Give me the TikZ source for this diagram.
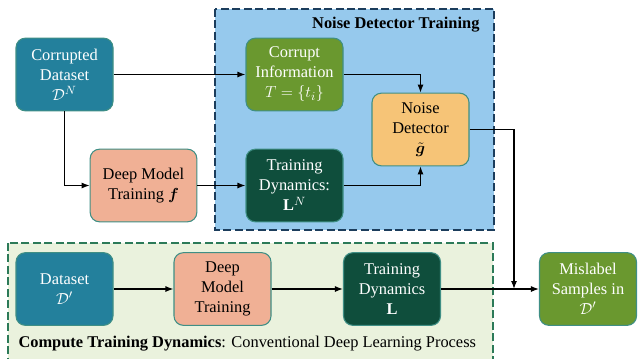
\documentclass[tikz,border=0pt]{standalone}
\usepackage{fontspec}
\setmainfont{Liberation Serif}
\usepackage{amsmath,bm}
\usetikzlibrary{arrows.meta, positioning}

\definecolor{datablue}{HTML}{23809C}
\definecolor{salmon}{HTML}{F0B095}
\definecolor{olivegreen}{HTML}{6A982F}
\definecolor{darkgreen}{HTML}{0F4E3C}
\definecolor{detorange}{HTML}{F6C477}
\definecolor{skyfill}{HTML}{96C9ED}
\definecolor{navyline}{HTML}{1C3D5C}
\definecolor{mintfill}{HTML}{EAF2DD}
\definecolor{greenline}{HTML}{2C7A58}
\definecolor{boxedge}{HTML}{3F8F85}

\begin{document}
\begin{tikzpicture}[x=0.75pt, y=-0.75pt, thick,
  box/.style={draw=boxedge, line width=0.8pt, rounded corners=7pt, minimum width=72.75pt, minimum height=54.5pt, align=center, inner sep=2pt, font=\fontsize{12.3}{15}\selectfont},
  link/.style={-{Latex[length=6pt,width=4.5pt]}, line width=0.9pt},
  group/.style={line width=2.2pt, dash pattern=on 6pt off 2.6pt}]
  \useasboundingbox (0,0) rectangle (641,358);
  % Group frames
  \draw[group, draw=navyline, fill=skyfill] (215,9) rectangle (494,230);
  \draw[group, draw=greenline, fill=mintfill] (8,243) rectangle (493,365);
  \node[anchor=base east, inner sep=0, font=\fontsize{12.3}{15}\selectfont\bfseries] (ndtitle) at (480,28) {Noise Detector Training};
  \node[anchor=base west, inner sep=0, font=\fontsize{12.3}{15}\selectfont] (cttitle) at (18,347) {\textbf{Compute Training Dynamics}: Conventional Deep Learning Process};
  % Upper row: noisy data
  \node[box, fill=datablue, text=white] (corrupted) at (64.5,74.5) {Corrupted\\Dataset\\$\mathcal{D}^N$};
  \node[box, fill=salmon, minimum width=80pt] (deeptrain) at (143.5,185.5) {Deep Model\\Training $\bm{f}$};
  \node[box, fill=olivegreen, text=white] (corruptinfo) at (294.5,74.5) {Corrupt\\Information\\$T=\{t_i\}$};
  \node[box, fill=darkgreen, text=white] (dynN) at (294.5,185.5) {Training\\Dynamics:\\$\mathbf{L}^N$};
  \node[box, fill=detorange] (detector) at (420.5,129.5) {Noise\\Detector\\$\tilde{\bm{g}}$};
  % Lower row: conventional training
  \node[box, fill=datablue, text=white] (dataset) at (64.5,289) {Dataset\\$\mathcal{D}'$};
  \node[box, fill=salmon] (deeptrain2) at (222.5,289) {Deep\\Model\\Training};
  \node[box, fill=darkgreen, text=white] (dyn) at (392,289) {Training\\Dynamics\\$\mathbf{L}$};
  \node[box, fill=olivegreen, text=white] (mislabel) at (588,289) {Mislabel\\Samples in\\$\mathcal{D}'$};
  \coordinate (merge) at (514,289);
  % Arrows
  \draw[link] (corrupted) -- (corruptinfo);
  \draw[link] (corrupted.south) |- (deeptrain.west);
  \draw[link] (deeptrain) -- (dynN);
  \draw[link] (corruptinfo.east) -| (detector.north);
  \draw[link] (dynN.east) -| (detector.south);
  \draw[link] (detector.east) -| (merge);
  \draw[link] (dataset) -- (deeptrain2);
  \draw[link] (deeptrain2) -- (dyn);
  \draw[link] (dyn) -- (mislabel);
\end{tikzpicture}
\end{document}
